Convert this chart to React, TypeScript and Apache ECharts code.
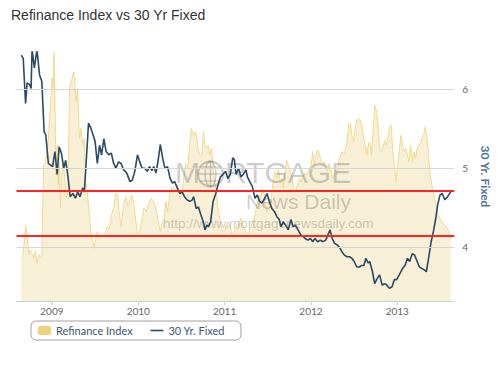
import React, { useEffect, useRef } from "react";
import * as echarts from "echarts";

// ---- Data (decimal years) ----
const rateYears = [
  2008.645, 2008.668, 2008.695, 2008.713, 2008.74, 2008.759, 2008.77, 2008.797, 2008.827, 2008.857,
  2008.883, 2008.91, 2008.929, 2008.959, 2008.985, 2009.008, 2009.035, 2009.061, 2009.084, 2009.11,
  2009.137, 2009.16, 2009.186, 2009.212, 2009.243, 2009.273, 2009.299, 2009.325, 2009.356, 2009.375,
  2009.393, 2009.424, 2009.45, 2009.477, 2009.5, 2009.526, 2009.552, 2009.575, 2009.602, 2009.628,
  2009.659, 2009.688, 2009.715, 2009.741, 2009.772, 2009.802, 2009.829, 2009.866, 2009.904, 2009.931,
  2009.96, 2009.991, 2010.017, 2010.044, 2010.074, 2010.104, 2010.13, 2010.158, 2010.18, 2010.206,
  2010.232, 2010.255, 2010.282, 2010.308, 2010.339, 2010.369, 2010.396, 2010.422, 2010.452, 2010.482,
  2010.509, 2010.535, 2010.566, 2010.595, 2010.626, 2010.641, 2010.671, 2010.697, 2010.725, 2010.754,
  2010.773, 2010.793, 2010.811, 2010.838, 2010.867, 2010.898, 2010.924, 2010.951, 2010.981, 2011.011,
  2011.037, 2011.065, 2011.094, 2011.113, 2011.133, 2011.162, 2011.189, 2011.215, 2011.246, 2011.264,
  2011.291, 2011.321, 2011.352, 2011.378, 2011.405, 2011.434, 2011.465, 2011.491, 2011.518, 2011.548,
  2011.578, 2011.604, 2011.632, 2011.654, 2011.68, 2011.706, 2011.737, 2011.768, 2011.794, 2011.82,
  2011.85, 2011.881, 2011.907, 2011.933, 2011.964, 2011.994, 2012.02, 2012.047, 2012.077, 2012.108,
  2012.134, 2012.171, 2012.198, 2012.221, 2012.247, 2012.273, 2012.304, 2012.335, 2012.361, 2012.387,
  2012.417, 2012.448, 2012.474, 2012.5, 2012.531, 2012.561, 2012.587, 2012.613, 2012.636, 2012.663,
  2012.681, 2012.712, 2012.738, 2012.765, 2012.795, 2012.825, 2012.852, 2012.879, 2012.908, 2012.939,
  2012.965, 2012.992, 2013.022, 2013.06, 2013.09, 2013.117, 2013.143, 2013.174, 2013.2, 2013.23,
  2013.256, 2013.287, 2013.316, 2013.336, 2013.362, 2013.392, 2013.418, 2013.446, 2013.468, 2013.494,
  2013.52, 2013.551, 2013.582, 2013.619,
];
const rateValues = [
  6.43, 6.39, 5.82, 6.08, 6.06, 6.01, 6.5, 6.27, 6.5, 6.18,
  6.1, 5.46, 5.42, 5.06, 5.04, 5.02, 5.21, 4.92, 5.27, 5.19,
  5.0, 5.1, 4.89, 4.64, 4.68, 4.62, 4.7, 4.64, 4.75, 4.7,
  5.0, 5.57, 5.51, 5.42, 5.34, 5.06, 5.29, 5.17, 5.37, 5.21,
  5.17, 5.19, 5.06, 5.0, 5.08, 5.06, 4.98, 4.94, 4.83, 4.85,
  4.96, 5.17, 5.08, 5.0, 5.0, 4.96, 5.02, 4.97, 5.02, 4.94,
  5.11, 5.3, 5.13, 5.0, 5.02, 4.87, 4.81, 4.83, 4.75, 4.68,
  4.7, 4.64, 4.6, 4.58, 4.6, 4.64, 4.49, 4.51, 4.41, 4.32,
  4.22, 4.28, 4.26, 4.32, 4.58, 4.68, 4.79, 4.89, 4.92, 4.96,
  4.87, 4.92, 5.13, 5.11, 4.92, 5.0, 4.89, 4.92, 4.98, 4.89,
  4.83, 4.77, 4.62, 4.66, 4.58, 4.56, 4.62, 4.68, 4.58, 4.49,
  4.45, 4.39, 4.35, 4.26, 4.32, 4.28, 4.22, 4.35, 4.26, 4.28,
  4.22, 4.16, 4.14, 4.11, 4.09, 4.11, 4.07, 4.11, 4.07, 4.09,
  4.07, 4.09, 4.16, 4.22, 4.11, 4.05, 4.03, 3.99, 3.94, 3.9,
  3.88, 3.88, 3.86, 3.82, 3.75, 3.75, 3.77, 3.77, 3.86, 3.8,
  3.82, 3.69, 3.54, 3.6, 3.65, 3.52, 3.54, 3.52, 3.48, 3.5,
  3.59, 3.59, 3.65, 3.73, 3.77, 3.86, 3.82, 3.92, 3.9, 3.82,
  3.75, 3.73, 3.71, 3.69, 3.86, 4.07, 4.2, 4.37, 4.54, 4.66,
  4.68, 4.6, 4.64, 4.7,
];

const refiYears = [
  2008.645, 2008.668, 2008.695, 2008.713, 2008.732, 2008.752, 2008.77, 2008.789, 2008.808, 2008.827,
  2008.846, 2008.865, 2008.883, 2008.903, 2008.922, 2008.94, 2008.959, 2008.978, 2008.99, 2009.001,
  2009.012, 2009.024, 2009.035, 2009.046, 2009.061, 2009.073, 2009.084, 2009.099, 2009.11, 2009.129,
  2009.149, 2009.167, 2009.186, 2009.205, 2009.223, 2009.243, 2009.254, 2009.269, 2009.28, 2009.299,
  2009.319, 2009.337, 2009.356, 2009.375, 2009.393, 2009.413, 2009.432, 2009.45, 2009.469, 2009.489,
  2009.507, 2009.526, 2009.545, 2009.564, 2009.583, 2009.613, 2009.639, 2009.666, 2009.688, 2009.715,
  2009.741, 2009.764, 2009.779, 2009.802, 2009.829, 2009.855, 2009.878, 2009.904, 2009.923, 2009.946,
  2009.968, 2009.991, 2010.017, 2010.044, 2010.067, 2010.093, 2010.119, 2010.15, 2010.18, 2010.206,
  2010.232, 2010.255, 2010.282, 2010.3, 2010.32, 2010.339, 2010.369, 2010.396, 2010.422, 2010.452,
  2010.482, 2010.509, 2010.527, 2010.547, 2010.573, 2010.595, 2010.615, 2010.641, 2010.66, 2010.679,
  2010.697, 2010.717, 2010.736, 2010.754, 2010.773, 2010.793, 2010.811, 2010.83, 2010.849, 2010.867,
  2010.887, 2010.906, 2010.924, 2010.943, 2010.963, 2010.981, 2011.0, 2011.019, 2011.037, 2011.057,
  2011.076, 2011.094, 2011.113, 2011.133, 2011.151, 2011.17, 2011.189, 2011.208, 2011.227, 2011.246,
  2011.264, 2011.283, 2011.302, 2011.321, 2011.34, 2011.359, 2011.378, 2011.397, 2011.416, 2011.434,
  2011.453, 2011.473, 2011.491, 2011.51, 2011.529, 2011.548, 2011.567, 2011.586, 2011.604, 2011.624,
  2011.643, 2011.661, 2011.68, 2011.699, 2011.718, 2011.737, 2011.756, 2011.775, 2011.794, 2011.813,
  2011.831, 2011.85, 2011.87, 2011.888, 2011.907, 2011.926, 2011.945, 2011.964, 2011.983, 2012.001,
  2012.02, 2012.04, 2012.058, 2012.077, 2012.096, 2012.115, 2012.134, 2012.153, 2012.171, 2012.19,
  2012.21, 2012.228, 2012.247, 2012.267, 2012.285, 2012.304, 2012.323, 2012.341, 2012.361, 2012.38,
  2012.398, 2012.417, 2012.437, 2012.455, 2012.474, 2012.494, 2012.512, 2012.531, 2012.55, 2012.568,
  2012.587, 2012.606, 2012.625, 2012.648, 2012.663, 2012.681, 2012.7, 2012.72, 2012.738, 2012.757,
  2012.777, 2012.795, 2012.814, 2012.833, 2012.852, 2012.871, 2012.89, 2012.908, 2012.928, 2012.947,
  2012.965, 2012.984, 2013.003, 2013.022, 2013.041, 2013.06, 2013.078, 2013.098, 2013.117, 2013.135,
  2013.154, 2013.174, 2013.192, 2013.211, 2013.23, 2013.248, 2013.268, 2013.287, 2013.305, 2013.324,
  2013.344, 2013.362, 2013.381, 2013.4, 2013.418, 2013.437, 2013.457, 2013.475, 2013.494, 2013.514,
  2013.551, 2013.582, 2013.608, 2013.619,
];
const refiValues = [
  1420, 1530, 2440, 2120, 1480, 1640, 1530, 1370, 1610, 1210,
  1480, 1420, 1480, 4320, 4480, 4690, 5230, 6080, 6620, 7160,
  6830, 7990, 6620, 4050, 5010, 3730, 4480, 2980, 3940, 4480,
  3940, 3300, 3510, 6830, 7050, 7260, 7370, 6830, 6400, 6830,
  5230, 5550, 5010, 5230, 3830, 3410, 2870, 2230, 2010, 1690,
  2010, 2230, 2120, 2070, 2120, 2120, 2390, 2330, 2760, 2980,
  3460, 3350, 2870, 2390, 3080, 3350, 3080, 3250, 3410, 3190,
  2660, 2120, 2230, 2660, 2980, 2870, 3140, 3300, 3190, 2980,
  2550, 2230, 2550, 2660, 3190, 2870, 3510, 3670, 3510, 3730,
  3300, 3510, 3940, 4420, 4260, 5010, 5550, 5330, 5440, 5280,
  4800, 4690, 4690, 5440, 5010, 4910, 5010, 4690, 4910, 4260,
  3830, 3410, 2980, 2660, 2330, 2230, 2280, 2440, 2550, 2440,
  2230, 2070, 2230, 2390, 2280, 2550, 2660, 2440, 2330, 2230,
  2120, 2230, 2390, 2550, 2600, 2870, 3190, 3080, 3250, 3620,
  3510, 3190, 2870, 3190, 2980, 3510, 3940, 4160, 3940, 4260,
  3830, 3940, 3620, 4160, 4530, 4370, 4160, 4050, 3730, 3510,
  3620, 3780, 3940, 3830, 4000, 4100, 4050, 4160, 4260, 4370,
  4800, 4370, 4690, 4850, 4740, 4530, 4370, 4480, 4260, 4160,
  4420, 4260, 3940, 4050, 4210, 4050, 4480, 4690, 4800, 4740,
  4850, 5120, 5660, 5710, 5330, 5120, 5550, 5820, 5870, 5820,
  5660, 5330, 5010, 4690, 5010, 5120, 4690, 5550, 6300, 6140,
  5660, 4910, 4800, 4910, 5170, 5010, 5230, 5550, 5660, 4910,
  4370, 3830, 4370, 4800, 5330, 5010, 4800, 4910, 4690, 4480,
  5010, 4480, 4800, 4580, 4910, 5010, 5070, 5230, 5330, 5600,
  5230, 4690, 4050, 3730, 3510, 3190, 2980, 2760, 2660, 2550,
  2440, 2330, 2120, 2010,
];

const yearTicks = [2009, 2010, 2011, 2012, 2013];
const rateTicks = [4, 5, 6];
const rateGridLines = [4, 5, 6];
const redLevels = [4.71, 4.14];

export default function App() {
  const ref = useRef<HTMLDivElement>(null);

  useEffect(() => {
    if (!ref.current) return;
    const chart = echarts.init(ref.current, undefined, { renderer: "svg" });

    const rateData = rateYears.map((y, i) => [y, rateValues[i]]);
    const refiData = refiYears.map((y, i) => [y, refiValues[i]]);

    const wm = "rgba(95,95,95,0.32)";

    const option: any = {
      animation: false,
      backgroundColor: "#ffffff",
      title: {
        text: "Refinance Index vs 30 Yr Fixed",
        left: 6,
        top: 3,
        textStyle: {
          fontFamily: "Liberation Sans",
          fontSize: 14,
          fontWeight: "normal",
          color: "#333333",
        },
      },
      legend: {
        left: 31,
        top: 321,
        orient: "horizontal",
        padding: [4, 16, 4, 7],
        borderColor: "#a0a0a0",
        borderWidth: 1,
        borderRadius: 5,
        itemWidth: 13,
        itemHeight: 9,
        itemGap: 17,
        textStyle: { fontFamily: "Lato", fontSize: 11, color: "#3E576F" },
        data: [
          { name: "Refinance Index", icon: "roundRect" },
          { name: "30 Yr. Fixed", itemStyle: { opacity: 0 }, lineStyle: { width: 1.6 } },
        ],
      },
      grid: { left: 16.5, right: 35.5, top: 52, bottom: 67, containLabel: false },
      xAxis: {
        type: "value",
        min: 2008.59,
        max: 2013.66,
        axisLine: { show: true, lineStyle: { color: "#c0d0e0", width: 1 } },
        axisTick: {
          show: true,
          customValues: yearTicks,
          length: 4,
          lineStyle: { color: "#c0d0e0" },
        },
        axisLabel: {
          customValues: yearTicks,
          formatter: (v: number) => String(Math.round(v)),
          color: "#666666",
          fontFamily: "Lato",
          fontSize: 10,
          margin: 5,
        },
        splitLine: { show: false },
      },
      yAxis: [
        {
          type: "value",
          position: "left",
          min: 0,
          max: 8000,
          show: false,
          splitLine: { show: false },
        },
        {
          type: "value",
          position: "right",
          min: 3.32,
          max: 6.47,
          axisLine: { show: false },
          axisTick: { show: false },
          splitLine: { show: false },
          axisLabel: {
            customValues: rateTicks,
            color: "#666666",
            fontFamily: "Lato",
            fontSize: 10,
            margin: 8,
          },
          name: "30 Yr. Fixed",
          nameLocation: "middle",
          nameRotate: -90,
          nameGap: 21,
          nameTextStyle: {
            color: "#4d759e",
            fontFamily: "Lato",
            fontWeight: "bold",
            fontSize: 12,
          },
        },
      ],
      graphic: [
        {
          type: "text",
          z: 2,
          x: 175,
          y: 157,
          silent: true,
          style: { text: "M", fill: wm, font: "30px 'Liberation Sans'", verticalAlign: "top" },
        },
        {
          type: "circle",
          z: 2,
          silent: true,
          shape: { cx: 210.5, cy: 174, r: 12.5 },
          style: { fill: "none", stroke: wm, lineWidth: 2.2 },
        },
        {
          type: "ellipse",
          z: 2,
          silent: true,
          shape: { cx: 210.5, cy: 174, rx: 5.5, ry: 12.5 },
          style: { fill: "none", stroke: wm, lineWidth: 1.4 },
        },
        {
          type: "line",
          z: 2,
          silent: true,
          shape: { x1: 210.5, y1: 161.5, x2: 210.5, y2: 186.5 },
          style: { stroke: wm, lineWidth: 1.4 },
        },
        {
          type: "line",
          z: 2,
          silent: true,
          shape: { x1: 198, y1: 174, x2: 223, y2: 174 },
          style: { stroke: wm, lineWidth: 1.4 },
        },
        {
          type: "line",
          z: 2,
          silent: true,
          shape: { x1: 200.5, y1: 167, x2: 220.5, y2: 167 },
          style: { stroke: wm, lineWidth: 1.2 },
        },
        {
          type: "line",
          z: 2,
          silent: true,
          shape: { x1: 200.5, y1: 181, x2: 220.5, y2: 181 },
          style: { stroke: wm, lineWidth: 1.2 },
        },
        {
          type: "text",
          z: 2,
          x: 225,
          y: 157,
          silent: true,
          style: { text: "RTGAGE", fill: wm, font: "30px 'Liberation Sans'", verticalAlign: "top" },
        },
        {
          type: "text",
          z: 2,
          x: 246,
          y: 191,
          silent: true,
          style: { text: "News Daily", fill: wm, font: "21px 'Liberation Sans'", verticalAlign: "top" },
        },
        {
          type: "text",
          z: 2,
          x: 163,
          y: 216,
          silent: true,
          style: {
            text: "http://www.mortgagenewsdaily.com",
            fill: wm,
            font: "13.5px 'Liberation Sans'",
            verticalAlign: "top",
          },
        },
      ],
      series: [
        {
          name: "Refinance Index",
          type: "line",
          yAxisIndex: 0,
          z: 1,
          data: refiData,
          symbol: "none",
          showSymbol: false,
          color: "#f1d27c",
          lineStyle: { color: "#f3d98f", width: 1 },
          areaStyle: { color: "#f7efd6", opacity: 1 },
          silent: true,
        },
        {
          name: "30 Yr. Fixed",
          type: "line",
          yAxisIndex: 1,
          z: 3,
          data: rateData,
          symbol: "none",
          showSymbol: false,
          color: "#2b4a66",
          lineStyle: { color: "#2b4a66", width: 1.6 },
          silent: true,
          markLine: {
            silent: true,
            symbol: "none",
            label: { show: false },
            data: [
              ...rateGridLines.map((v) => ({
                yAxis: v,
                lineStyle: { color: "#d6d6d6", width: 1, type: "solid" },
              })),
              ...redLevels.map((v) => ({
                yAxis: v,
                lineStyle: { color: "#ff2424", width: 2, type: "solid" },
              })),
            ],
          },
        },
      ],
    };

    chart.setOption(option);
    return () => chart.dispose();
  }, []);

  return (
    <div
      ref={ref}
      style={{ position: "absolute", left: 0, top: 0, width: 499, height: 368 }}
    />
  );
}
